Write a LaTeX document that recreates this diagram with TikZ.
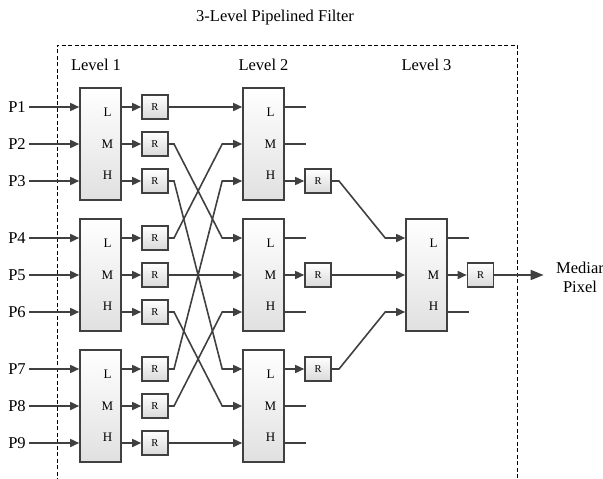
\documentclass[tikz,border=0pt]{standalone}
\usepackage{fontspec}
\setmainfont{Liberation Serif}
\usetikzlibrary{arrows.meta}
\definecolor{wiregray}{RGB}{64,64,64}

\begin{document}
\begin{tikzpicture}[x=1pt, y=-1pt,
    sorter/.style={draw=wiregray, line width=1.6pt, top color=white, bottom color=black!12, minimum width=41pt, minimum height=112pt, inner sep=0pt},
    reg/.style={draw=wiregray, line width=1.6pt, top color=white, bottom color=black!15, minimum width=26pt, minimum height=24pt, inner sep=0pt, font=\fontsize{10.5}{12}\selectfont},
    port/.style={inner sep=0pt, font=\fontsize{13}{15}\selectfont},
    lbl/.style={font=\fontsize{16.5}{19}\selectfont},
    wire/.style={draw=wiregray, line width=1.6pt},
    arr/.style={wire, -{Triangle[length=9pt,width=8pt]}},
    bigarr/.style={wire, -{Triangle[length=13pt,width=10pt]}}]
      \useasboundingbox (0,0) rectangle (603,479);

      % Frame and titles
      \draw[dashed, line width=0.8pt, dash pattern=on 4pt off 2.5pt] (57,495) -- (57,45) -- (517,45) -- (517,495);
      \node[lbl] (title) at (275,18) {3-Level Pipelined Filter};
      \node[lbl] (lev1) at (96,65) {Level 1};
      \node[lbl] (lev2) at (263.5,65) {Level 2};
      \node[lbl] (lev3) at (426.5,65) {Level 3};

      % Inputs
      \node[lbl] (p1) at (17,107) {P1};
      \node[lbl] (p2) at (17,144) {P2};
      \node[lbl] (p3) at (17,181) {P3};
      \node[lbl] (p4) at (17,238) {P4};
      \node[lbl] (p5) at (17,275) {P5};
      \node[lbl] (p6) at (17,312) {P6};
      \node[lbl] (p7) at (17,369) {P7};
      \node[lbl] (p8) at (17,406) {P8};
      \node[lbl] (p9) at (17,443) {P9};

      % Level 1 sorters
      \node[sorter] (b11) at (100.5,144) {};
      \node[sorter] (b12) at (100.5,275) {};
      \node[sorter] (b13) at (100.5,406) {};
      \node[port] (l11) at ([xshift=7pt,yshift=31.5pt]b11.center) {L};
      \node[port] (m11) at (b11.center -| l11) {M};
      \node[port] (h11) at ([xshift=7pt,yshift=-31pt]b11.center) {H};
      \node[port] (l12) at ([xshift=7pt,yshift=31.5pt]b12.center) {L};
      \node[port] (m12) at (b12.center -| l12) {M};
      \node[port] (h12) at ([xshift=7pt,yshift=-31pt]b12.center) {H};
      \node[port] (l13) at ([xshift=7pt,yshift=31.5pt]b13.center) {L};
      \node[port] (m13) at (b13.center -| l13) {M};
      \node[port] (h13) at ([xshift=7pt,yshift=-31pt]b13.center) {H};

      % Level 1 registers
      \node[reg] (r1) at (155,107) {R};
      \node[reg] (r2) at (155,144) {R};
      \node[reg] (r3) at (155,181) {R};
      \node[reg] (r4) at (155,238) {R};
      \node[reg] (r5) at (155,275) {R};
      \node[reg] (r6) at (155,312) {R};
      \node[reg] (r7) at (155,369) {R};
      \node[reg] (r8) at (155,406) {R};
      \node[reg] (r9) at (155,443) {R};

      % Level 2 sorters
      \node[sorter] (b21) at (263.5,144) {};
      \node[sorter] (b22) at (263.5,275) {};
      \node[sorter] (b23) at (263.5,406) {};
      \node[port] (l21) at ([xshift=7pt,yshift=31.5pt]b21.center) {L};
      \node[port] (m21) at (b21.center -| l21) {M};
      \node[port] (h21) at ([xshift=7pt,yshift=-31pt]b21.center) {H};
      \node[port] (l22) at ([xshift=7pt,yshift=31.5pt]b22.center) {L};
      \node[port] (m22) at (b22.center -| l22) {M};
      \node[port] (h22) at ([xshift=7pt,yshift=-31pt]b22.center) {H};
      \node[port] (l23) at ([xshift=7pt,yshift=31.5pt]b23.center) {L};
      \node[port] (m23) at (b23.center -| l23) {M};
      \node[port] (h23) at ([xshift=7pt,yshift=-31pt]b23.center) {H};

      % Level 2 registers
      \node[reg] (s1) at (318,181) {R};
      \node[reg] (s2) at (318,275) {R};
      \node[reg] (s3) at (318,369) {R};

      % Level 3 sorter and register
      \node[sorter] (b31) at (426.5,275) {};
      \node[port] (l31) at ([xshift=7pt,yshift=31.5pt]b31.center) {L};
      \node[port] (m31) at (b31.center -| l31) {M};
      \node[port] (h31) at ([xshift=7pt,yshift=-31pt]b31.center) {H};
      \node[reg] (t1) at (480.5,275) {R};
      \node[lbl, align=center, font=\fontsize{16.5}{19}\selectfont] (out) at (580,277) {Mediar\\Pixel};

      % Inputs to level 1
      \draw[arr] (p1) -- (p1 -| b11.west);
      \draw[arr] (p2) -- (p2 -| b11.west);
      \draw[arr] (p3) -- (p3 -| b11.west);
      \draw[arr] (p4) -- (p4 -| b12.west);
      \draw[arr] (p5) -- (p5 -| b12.west);
      \draw[arr] (p6) -- (p6 -| b12.west);
      \draw[arr] (p7) -- (p7 -| b13.west);
      \draw[arr] (p8) -- (p8 -| b13.west);
      \draw[arr] (p9) -- (p9 -| b13.west);

      % Level 1 to registers
      \draw[arr] (b11.east |- r1) -- (r1);
      \draw[arr] (b11.east |- r2) -- (r2);
      \draw[arr] (b11.east |- r3) -- (r3);
      \draw[arr] (b12.east |- r4) -- (r4);
      \draw[arr] (b12.east |- r5) -- (r5);
      \draw[arr] (b12.east |- r6) -- (r6);
      \draw[arr] (b13.east |- r7) -- (r7);
      \draw[arr] (b13.east |- r8) -- (r8);
      \draw[arr] (b13.east |- r9) -- (r9);

      % Registers to level 2 (crossing)
      \draw[arr] (r1) -- (b21.west |- r1);
      \draw[arr] (r4) -- ++(19,0) -- ([xshift=-20pt]b21.west |- r2) -- (b21.west |- r2);
      \draw[arr] (r7) -- ++(19,0) -- ([xshift=-20pt]b21.west |- r3) -- (b21.west |- r3);
      \draw[arr] (r2) -- ++(19,0) -- ([xshift=-20pt]b22.west |- r4) -- (b22.west |- r4);
      \draw[arr] (r5) -- (b22.west |- r5);
      \draw[arr] (r8) -- ++(19,0) -- ([xshift=-20pt]b22.west |- r6) -- (b22.west |- r6);
      \draw[arr] (r3) -- ++(19,0) -- ([xshift=-20pt]b23.west |- r7) -- (b23.west |- r7);
      \draw[arr] (r6) -- ++(19,0) -- ([xshift=-20pt]b23.west |- r8) -- (b23.west |- r8);
      \draw[arr] (r9) -- (b23.west |- r9);

      % Level 2 outputs
      \draw[wire] (b21.east |- r1) -- ++(21,0);
      \draw[wire] (b21.east |- r2) -- ++(21,0);
      \draw[arr] (b21.east |- s1) -- (s1);
      \draw[wire] (b22.east |- r4) -- ++(21,0);
      \draw[arr] (b22.east |- s2) -- (s2);
      \draw[wire] (b22.east |- r6) -- ++(21,0);
      \draw[arr] (b23.east |- s3) -- (s3);
      \draw[wire] (b23.east |- r8) -- ++(21,0);
      \draw[wire] (b23.east |- r9) -- ++(21,0);

      % Registers to level 3
      \draw[arr] (s1) -- ++(21,0) -- ([xshift=-20pt]b31.west |- r4) -- (b31.west |- r4);
      \draw[arr] (s2) -- (b31.west |- s2);
      \draw[arr] (s3) -- ++(21,0) -- ([xshift=-20pt]b31.west |- r6) -- (b31.west |- r6);

      % Level 3 outputs
      \draw[wire] (b31.east |- r4) -- ++(21,0);
      \draw[arr] (b31.east |- t1) -- (t1);
      \draw[wire] (b31.east |- r6) -- ++(21,0);
      \draw[bigarr, shorten >=9pt] (t1) -- (out.west |- t1);
    \end{tikzpicture}
\end{document}
